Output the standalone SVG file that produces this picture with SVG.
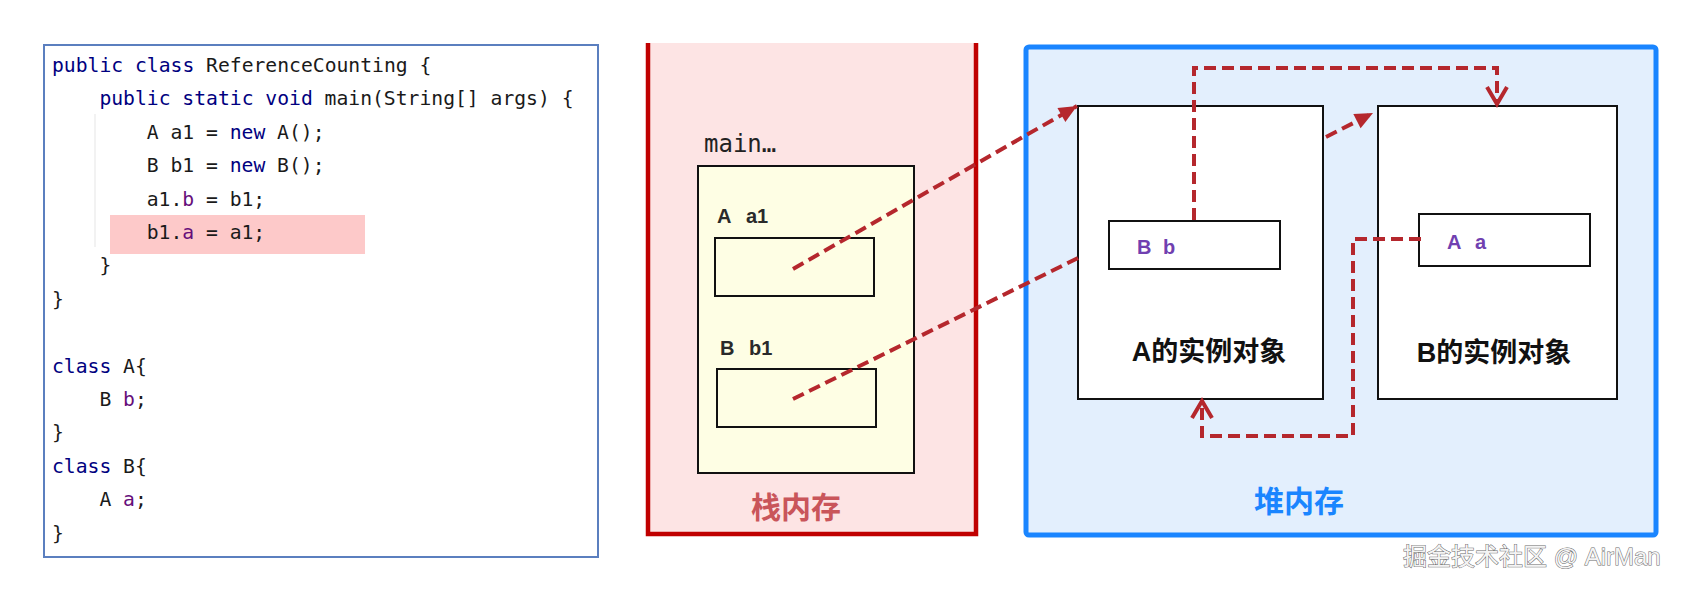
<svg xmlns="http://www.w3.org/2000/svg" width="1690" height="589" viewBox="0 0 1690 589">
<style>
.code{font-family:"DejaVu Sans Mono","Liberation Mono",monospace;font-size:19.7px;fill:#1a1a1a}
.kw{fill:#000080}
.fld{fill:#660e7a}
.lbl{font-family:"Liberation Sans","DejaVu Sans",sans-serif;font-weight:bold;font-size:20px;fill:#2a2a2a}
.plbl{font-family:"Liberation Sans","DejaVu Sans",sans-serif;font-weight:bold;font-size:20px;fill:#7040b0}
.cjk{font-family:"Liberation Sans","Noto Sans CJK SC",sans-serif;font-weight:bold}
.box{stroke:#111;stroke-width:2}
.conn{fill:none;stroke:#b5272d;stroke-width:4;stroke-dasharray:12 6}
</style>
<defs>
<marker id="tri" markerUnits="userSpaceOnUse" markerWidth="20" markerHeight="16" refX="18" refY="8" orient="auto" overflow="visible">
<path d="M0,0 L18,8 L0,16 z" fill="#b5272d"/>
</marker>
<marker id="vee" markerUnits="userSpaceOnUse" markerWidth="22" markerHeight="24" refX="18" refY="11" orient="auto" overflow="visible">
<path d="M1,1 L18,11 L1,21" fill="none" stroke="#b5272d" stroke-width="4"/>
</marker>
</defs>
<rect width="1690" height="589" fill="#ffffff"/>

<g id="code-panel">
<rect x="44" y="45" width="554" height="512" fill="#ffffff" stroke="#5b7fbf" stroke-width="2"/>
<line x1="95" y1="114" x2="95" y2="247" stroke="#eeeeee" stroke-width="1.5"/>
<rect x="110" y="215" width="255" height="39" fill="#fdc9c9"/>
<text class="code" x="52" y="72"><tspan class="kw">public class</tspan> ReferenceCounting {</text>
<text class="code" x="99.4" y="105.4"><tspan class="kw">public static void</tspan> main(String[] args) {</text>
<text class="code" x="146.7" y="138.8">A a1 = <tspan class="kw">new</tspan> A();</text>
<text class="code" x="146.7" y="172.2">B b1 = <tspan class="kw">new</tspan> B();</text>
<text class="code" x="146.7" y="205.6">a1.<tspan class="fld">b</tspan> = b1;</text>
<text class="code" x="146.7" y="239">b1.<tspan class="fld">a</tspan> = a1;</text>
<text class="code" x="99.4" y="272.4">}</text>
<text class="code" x="52" y="305.8">}</text>
<text class="code" x="52" y="372.6"><tspan class="kw">class</tspan> A{</text>
<text class="code" x="99.4" y="406">B <tspan class="fld">b</tspan>;</text>
<text class="code" x="52" y="439.4">}</text>
<text class="code" x="52" y="472.8"><tspan class="kw">class</tspan> B{</text>
<text class="code" x="99.4" y="506.2">A <tspan class="fld">a</tspan>;</text>
<text class="code" x="52" y="539.6">}</text>
</g>

<g id="stack">
<rect x="648" y="43" width="328" height="491" fill="#fde4e4"/>
<path d="M648,43 V534 H976 V43" fill="none" stroke="#c00000" stroke-width="4.5"/>
<text x="704" y="152" font-family="DejaVu Sans Mono,monospace" font-size="24" fill="#222">main…</text>
<text class="cjk" x="796" y="518" font-size="30" fill="#c9555a" text-anchor="middle">栈内存</text>
</g>

<g id="main-frame">
<rect x="698" y="166" width="216" height="307" fill="#fefee4" class="box"/>
</g>

<g id="var-a1">
<text class="lbl" x="717" y="223">A</text><text class="lbl" x="746" y="223">a1</text>
<rect x="715" y="238" width="159" height="58" fill="#fefee4" class="box"/>
</g>

<g id="var-b1">
<text class="lbl" x="720" y="355">B</text><text class="lbl" x="749" y="355">b1</text>
<rect x="717" y="369" width="159" height="58" fill="#fefee4" class="box"/>
</g>

<g id="heap">
<rect x="1026" y="47" width="630" height="488" rx="3" fill="#e3effd" stroke="#1a85ff" stroke-width="5"/>
<text class="cjk" x="1299" y="512" font-size="30" fill="#1a85ff" text-anchor="middle">堆内存</text>
</g>

<g id="obj-a">
<rect x="1078" y="106" width="245" height="293" fill="#ffffff" class="box"/>
<rect x="1109" y="221" width="171" height="48" fill="#ffffff" class="box"/>
<text class="plbl" x="1137" y="254">B</text><text class="plbl" x="1163" y="254">b</text>
<text class="cjk" x="1209" y="361" font-size="27" fill="#111" text-anchor="middle">A的实例对象</text>
</g>

<g id="obj-b">
<rect x="1378" y="106" width="239" height="293" fill="#ffffff" class="box"/>
<rect x="1419" y="214" width="171" height="52" fill="#ffffff" class="box"/>
<text class="plbl" x="1447" y="249">A</text><text class="plbl" x="1475" y="249">a</text>
<text class="cjk" x="1494" y="362" font-size="27" fill="#111" text-anchor="middle">B的实例对象</text>
</g>

<g id="connectors">
<path class="conn" d="M793,269 L1077,106" marker-end="url(#tri)"/>
<path class="conn" d="M793,399 L1078,258"/>
<path class="conn" d="M1326,137 L1373,113" marker-end="url(#tri)"/>
<path class="conn" d="M1194,220 L1194,68 L1497,68 L1497,104" marker-end="url(#vee)"/>
<path class="conn" d="M1421,239 L1353,239 L1353,436 L1202,436 L1202,401" marker-end="url(#vee)"/>
</g>

<g id="watermark">
<text x="1403" y="565" font-family="Liberation Sans,Noto Sans CJK SC,sans-serif" font-size="24" fill="#f4f4f4" stroke="#6a6a6a" stroke-width="1" paint-order="stroke">掘金技术社区 @ AirMan</text>
</g>
</svg>
